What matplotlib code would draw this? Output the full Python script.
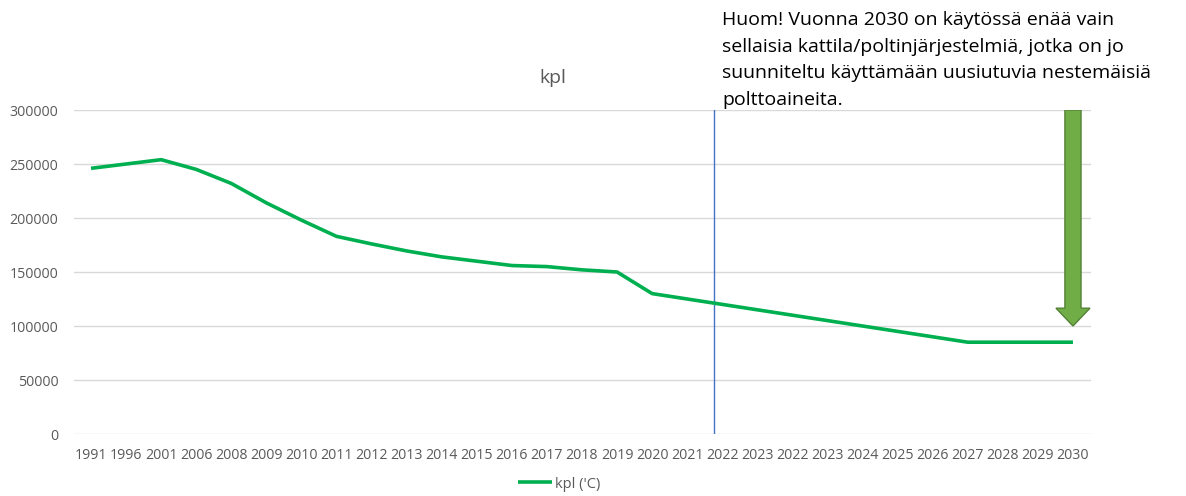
import matplotlib
matplotlib.use("Agg")
import matplotlib.pyplot as plt
from matplotlib.patches import FancyArrow

plt.rcParams['font.family'] = ['Open Sans', 'DejaVu Sans']

# x-axis categories as they appear in the chart (note the repeated 2022/2023)
years = ["1991", "1996", "2001", "2006", "2008", "2009", "2010", "2011", "2012",
         "2013", "2014", "2015", "2016", "2017", "2018", "2019", "2020", "2021",
         "2022", "2023", "2022", "2023", "2024", "2025", "2026", "2027", "2028",
         "2029", "2030"]
kpl = [246000, 250000, 254000, 245000, 232000, 214000, 198000, 183000, 176000,
       169500, 164000, 160000, 156000, 155000, 152000, 150000, 130000, 125000,
       120000, 115000, 110000, 105000, 100000, 95000, 90000, 85000, 85000,
       85000, 85000]
yticks = [0, 50000, 100000, 150000, 200000, 250000, 300000]

note = ("Huom! Vuonna 2030 on käytössä enää vain\n"
        "sellaisia kattila/poltinjärjestelmiä, jotka on jo\n"
        "suunniteltu käyttämään uusiutuvia nestemäisiä\n"
        "polttoaineita.")

W, H = 1186, 496
fig = plt.figure(figsize=(W / 100, H / 100), dpi=100)
ax = fig.add_axes([73.5 / W, 62 / H, 1017 / W, 324 / H])

x = list(range(len(years)))
ax.plot(x, kpl, color="#00B050", lw=2.6, label="kpl ('C)", solid_capstyle="butt", zorder=3)

ax.set_xlim(-0.5, len(years) - 0.5)
ax.set_ylim(0, 300000)
ax.set_yticks(yticks)
ax.set_yticklabels([str(v) for v in yticks])
ax.set_xticks(x)
ax.set_xticklabels(years)
ax.tick_params(length=0, labelsize=10.2, labelcolor="#595959")
ax.tick_params(axis="x", pad=10)
ax.tick_params(axis="y", pad=11)
ax.grid(axis="y", color="#d9d9d9", lw=1)
ax.set_axisbelow(True)
for s in ax.spines.values():
    s.set_visible(False)
ax.patch.set_alpha(0)

# vertical marker line (drawn shape, between 2021 and 2022)
ax.axvline(17.77, color="#4472C4", lw=1, zorder=2)

# downward arrow at 2030
arr = FancyArrow(28, 300000, 0, -200000, width=0.46, head_width=0.97,
                 head_length=16500, length_includes_head=True,
                 facecolor="#70AD47", edgecolor="#548235", lw=1, zorder=4)
ax.add_patch(arr)

fig.text(553 / W, 1 - 78 / H, "kpl", ha="center", va="center",
         fontsize=14, color="#595959")
fig.text(722 / W, 1 - 11 / H, note, ha="left", va="top", fontsize=14,
         color="#000000", linespacing=1.62)

fig.legend(loc="center", bbox_to_anchor=(559 / W, 1 - 484 / H), frameon=False,
           fontsize=10.5, labelcolor="#595959", handlelength=2.3, handletextpad=0.2)

fig.savefig("out.png", dpi=100, facecolor="white")
